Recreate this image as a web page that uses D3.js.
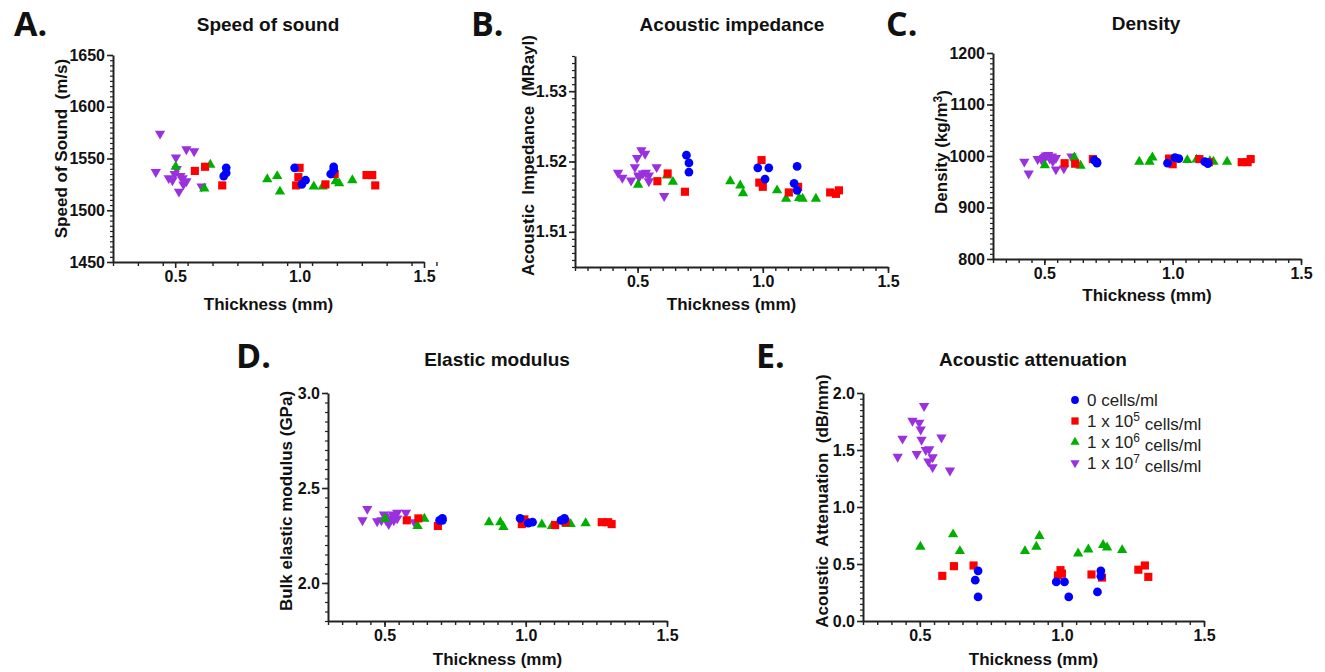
<!DOCTYPE html>
<html>
<head>
<meta charset="utf-8">
<title>Acoustic properties vs thickness</title>
<script src="https://d3js.org/d3.v7.min.js"></script>
<style>
body { margin: 0; background: #fff; }
text { font-family: "Liberation Sans", Arial, sans-serif; fill: #111; }
.letter { font-family: "Open Sans", "Liberation Sans", sans-serif; font-weight: 700; font-size: 34px; }
.title { font-weight: 700; font-size: 19px; }
.lab { font-weight: 700; font-size: 17px; white-space: pre; }
.tick text { font-weight: 700; font-size: 16px; fill: #111; font-family: "Liberation Sans", Arial, sans-serif; }
.legend text { font-size: 17px; fill: #222; }
</style>
</head>
<body>
<div id="container"></div>
<script>
// sample thickness (mm) for each cell concentration
var thickBlue   = [0.695, 0.705, 0.705, 0.98, 1.009, 1.024, 1.125, 1.137, 1.137];
var thickRed    = [0.579, 0.62, 0.689, 0.986, 0.995, 1.0, 1.104, 1.141, 1.269, 1.292, 1.304];
var thickGreen  = [0.502, 0.617, 0.641, 0.870, 0.910, 0.921, 1.057, 1.093, 1.145, 1.159, 1.212];
var thickPurple = [0.422, 0.439, 0.474, 0.489, 0.498, 0.503, 0.506, 0.515, 0.521, 0.530, 0.533, 0.545, 0.545, 0.576, 0.606];

// A. speed of sound (m/s)
var sosBlue   = [1533, 1536, 1541, 1541, 1525, 1529, 1535, 1539, 1542];
var sosRed    = [1538, 1542, 1524, 1524, 1532, 1541, 1525, 1535, 1534, 1534, 1524];
var sosGreen  = [1542, 1521, 1544, 1530, 1533, 1518, 1523, 1523, 1528, 1526, 1529];
var sosPurple = [1537, 1574, 1531, 1529, 1535, 1551, 1540, 1518, 1533, 1531, 1525, 1559, 1528, 1557, 1523];

// B. acoustic impedance (MRayl)
var impBlue   = [1.5209, 1.5198, 1.5185, 1.5191, 1.5175, 1.5191, 1.5169, 1.5159, 1.5193];
var impRed    = [1.5172, 1.5183, 1.5157, 1.5170, 1.5202, 1.5164, 1.5156, 1.5164, 1.5156, 1.5154, 1.5159];
var impGreen  = [1.5167, 1.5180, 1.5171, 1.5172, 1.5166, 1.5155, 1.5159, 1.5147, 1.5148, 1.5147, 1.5147];
var impPurple = [1.5184, 1.5177, 1.5173, 1.5192, 1.5205, 1.5180, 1.5178, 1.5216, 1.5183, 1.5211, 1.5184, 1.5172, 1.5180, 1.5192, 1.5151];

// C. density (kg/m3)
var rhoBlue   = [992, 988, 986, 986, 997, 995, 989, 985, 987];
var rhoRed    = [986, 985, 994, 995, 990, 984, 994, 988, 988, 988, 994];
var rhoGreen  = [982, 997, 981, 989, 989, 997, 992, 993, 990, 989, 989];
var rhoPurple = [989, 966, 994, 993, 996, 998, 1001, 1002, 995, 999, 990, 974, 996, 976, 999];

// D. bulk elastic modulus (GPa)
var modBlue   = [2.33, 2.34, 2.33, 2.34, 2.315, 2.32, 2.33, 2.335, 2.34];
var modRed    = [2.33, 2.34, 2.30, 2.31, 2.335, 2.32, 2.305, 2.32, 2.32, 2.32, 2.31];
var modGreen  = [2.338, 2.30, 2.338, 2.32, 2.32, 2.295, 2.308, 2.30, 2.31, 2.31, 2.315];
var modPurple = [2.33, 2.39, 2.325, 2.33, 2.36, 2.35, 2.33, 2.31, 2.34, 2.36, 2.33, 2.37, 2.34, 2.37, 2.32];

// E. acoustic attenuation (dB/mm)
var attBlue   = [0.358, 0.44, 0.211, 0.343, 0.343, 0.211, 0.255, 0.44, 0.393];
var attRed    = [0.396, 0.481, 0.487, 0.40, 0.446, 0.416, 0.408, 0.381, 0.45, 0.487, 0.387];
var attGreen  = [0.651, 0.76, 0.613, 0.613, 0.651, 0.745, 0.592, 0.628, 0.666, 0.645, 0.622];
var attPurple = [1.44, 1.60, 1.757, 1.465, 1.74, 1.68, 1.59, 1.886, 1.50, 1.40, 1.506, 1.436, 1.35, 1.61, 1.32];

var xTicks = [0.5, 1.0, 1.5];
var legendNames = ["0 cells/ml", "5", "6", "7"];

// series drawn bottom to top
var series = [
	{key: "purple", color: "#9a30de", shape: "down", thick: thickPurple},
	{key: "green",  color: "#00b000", shape: "up",   thick: thickGreen},
	{key: "red",    color: "#ff0000", shape: "square", thick: thickRed},
	{key: "blue",   color: "#0000ff", shape: "circle", thick: thickBlue}
];

var panels = [
	{letter: "A.", title: "Speed of sound", ylab: "Speed of Sound  (m/s)",
	 box: [113, 424, 55, 262], xDom: [0.25, 1.5], xMinor: 0.1,
	 yDom: [1450, 1650], yTicks: [1450, 1500, 1550, 1600, 1650], yMinor: 5, yFmt: d3.format("d"),
	 letterPos: [14, 36], titlePos: [268, 31], xlabY: 310, ylabX: 61, ylabShift: -10,
	 vals: {blue: sosBlue, red: sosRed, green: sosGreen, purple: sosPurple}},
	{letter: "B.", title: "Acoustic impedance", ylab: "Acoustic  Impedance  (MRayl)",
	 box: [575, 888, 56, 267], xDom: [0.25, 1.5], xMinor: 0.05,
	 yDom: [1.505, 1.535], yTicks: [1.51, 1.52, 1.53], yMinor: 0.001, yFmt: d3.format(".2f"),
	 letterPos: [471, 36], titlePos: [732, 31], xlabY: 310, ylabX: 528, ylabShift: -6,
	 vals: {blue: impBlue, red: impRed, green: impGreen, purple: impPurple}},
	{letter: "C.", title: "Density", ylab: "Density (kg/m",
	 box: [993, 1301, 53, 259], xDom: [0.3, 1.5], xMinor: 0.05,
	 yDom: [800, 1200], yTicks: [800, 900, 1000, 1100, 1200], yMinor: 10, yFmt: d3.format("d"),
	 letterPos: [886, 36], titlePos: [1146, 30], xlabY: 301, ylabX: 941, ylabShift: -4,
	 vals: {blue: rhoBlue, red: rhoRed, green: rhoGreen, purple: rhoPurple}},
	{letter: "D.", title: "Elastic modulus", ylab: "Bulk elastic modulus (GPa)",
	 box: [328, 667, 393, 621], xDom: [0.3, 1.5], xMinor: 0.05,
	 yDom: [1.8, 3.0], yTicks: [2.0, 2.5, 3.0], yMinor: 0.05, yFmt: d3.format(".1f"),
	 letterPos: [236, 368], titlePos: [497, 366], xlabY: 665, ylabX: 286, ylabShift: -6,
	 vals: {blue: modBlue, red: modRed, green: modGreen, purple: modPurple}},
	{letter: "E.", title: "Acoustic attenuation", ylab: "Acoustic  Attenuation  (dB/mm)",
	 box: [863, 1204, 393, 621], xDom: [0.3, 1.5], xMinor: 0.05,
	 yDom: [0, 2.0], yTicks: [0, 0.5, 1.0, 1.5, 2.0], yMinor: 0.05, yFmt: d3.format(".1f"),
	 letterPos: [756, 368], titlePos: [1033, 366], xlabY: 665, ylabX: 822, ylabShift: -6,
	 vals: {blue: attBlue, red: attRed, green: attGreen, purple: attPurple}}
];

var svg = d3.select("#container")
	.append("svg")
	.attr("width", 1325)
	.attr("height", 672);

function symbolPath(shape, scale) {
	var k = scale || 1;
	if (shape === "circle") return d3.symbol().type(d3.symbolCircle).size(60 * k)();
	if (shape === "square") return d3.symbol().type(d3.symbolSquare).size(66 * k)();
	return d3.symbol().type(d3.symbolTriangle).size(46 * k)();
}

function steps(a, b, s) {
	var out = [];
	var n = Math.round((b - a) / s);
	for (var i = 0; i <= n; i++) out.push(+(a + i * s).toFixed(4));
	return out;
}

panels.forEach(function(p) {
	var x = d3.scaleLinear().domain(p.xDom).range([p.box[0], p.box[1]]);
	var y = d3.scaleLinear().domain(p.yDom).range([p.box[3], p.box[2]]);
	var g = svg.append("g");

	//minor ticks first
	g.append("g")
		.attr("transform", "translate(0," + p.box[3] + ")")
		.call(d3.axisBottom(x).tickValues(steps(p.xDom[0], p.xDom[1], p.xMinor)).tickSize(4).tickFormat(""))
		.call(function(s) { s.select(".domain").remove(); s.selectAll("line").attr("stroke", "#222").attr("stroke-width", 1.4); });
	g.append("g")
		.attr("transform", "translate(" + p.box[0] + ",0)")
		.call(d3.axisLeft(y).tickValues(steps(p.yDom[0], p.yDom[1], p.yMinor)).tickSize(3).tickFormat(""))
		.call(function(s) { s.select(".domain").remove(); s.selectAll("line").attr("stroke", "#222").attr("stroke-width", 1.2); });

	//major axes
	var xa = g.append("g")
		.attr("transform", "translate(0," + p.box[3] + ")")
		.call(d3.axisBottom(x).tickValues(xTicks).tickSize(6).tickSizeOuter(0).tickPadding(3).tickFormat(d3.format(".1f")));
	var ya = g.append("g")
		.attr("transform", "translate(" + p.box[0] + ",0)")
		.call(d3.axisLeft(y).tickValues(p.yTicks).tickSize(6).tickSizeOuter(0).tickPadding(2).tickFormat(p.yFmt));
	[xa, ya].forEach(function(a) {
		a.select(".domain").attr("stroke", "#222").attr("stroke-width", 2);
		a.selectAll(".tick line").attr("stroke", "#222").attr("stroke-width", 1.6);
	});

	//data points
	series.forEach(function(s) {
		var vals = p.vals[s.key];
		g.append("g").selectAll("path")
			.data(s.thick.map(function(t, i) { return [t, vals[i]]; }))
			.enter().append("path")
			.attr("d", symbolPath(s.shape))
			.attr("fill", s.color)
			.attr("transform", function(d) {
				return "translate(" + x(d[0]) + "," + y(d[1]) + ")" + (s.shape === "down" ? " rotate(180)" : "");
			});
	});

	//texts
	g.append("text").attr("class", "letter")
		.attr("x", p.letterPos[0]).attr("y", p.letterPos[1]).text(p.letter);
	g.append("text").attr("class", "title")
		.attr("x", p.titlePos[0]).attr("y", p.titlePos[1])
		.attr("text-anchor", "middle").text(p.title);
	g.append("text").attr("class", "lab")
		.attr("x", (p.box[0] + p.box[1]) / 2).attr("y", p.xlabY)
		.attr("text-anchor", "middle").text("Thickness (mm)");
	var yl = g.append("text").attr("class", "lab")
		.attr("transform", "translate(" + p.ylabX + "," + ((p.box[2] + p.box[3]) / 2 + p.ylabShift) + ") rotate(-90)")
		.attr("text-anchor", "middle").attr("dy", "0.36em")
		.text(p.ylab);
	if (p.letter === "C.") {
		yl.append("tspan").attr("dy", "-0.45em").style("font-size", "12px").text("3");
		yl.append("tspan").attr("dy", "0.45em").text(")");
	}
});

//legend in panel E
var legend = svg.append("g").attr("class", "legend");
var legendOrder = series.slice().reverse();
legendOrder.forEach(function(s, i) {
	var ly = 400 + i * 21;
	legend.append("path")
		.attr("d", symbolPath(s.shape, 0.8))
		.attr("fill", s.color)
		.attr("transform", "translate(1075," + ly + ")" + (s.shape === "down" ? " rotate(180)" : ""));
	var t = legend.append("text").attr("x", 1087).attr("y", ly + 6);
	if (i === 0) {
		t.text(legendNames[0]);
	} else {
		t.append("tspan").text("1 x 10");
		t.append("tspan").attr("dy", "-0.5em").style("font-size", "12px").text(legendNames[i]);
		t.append("tspan").attr("dy", "0.5em").text(" cells/ml");
	}
});
</script>
</body>
</html>
